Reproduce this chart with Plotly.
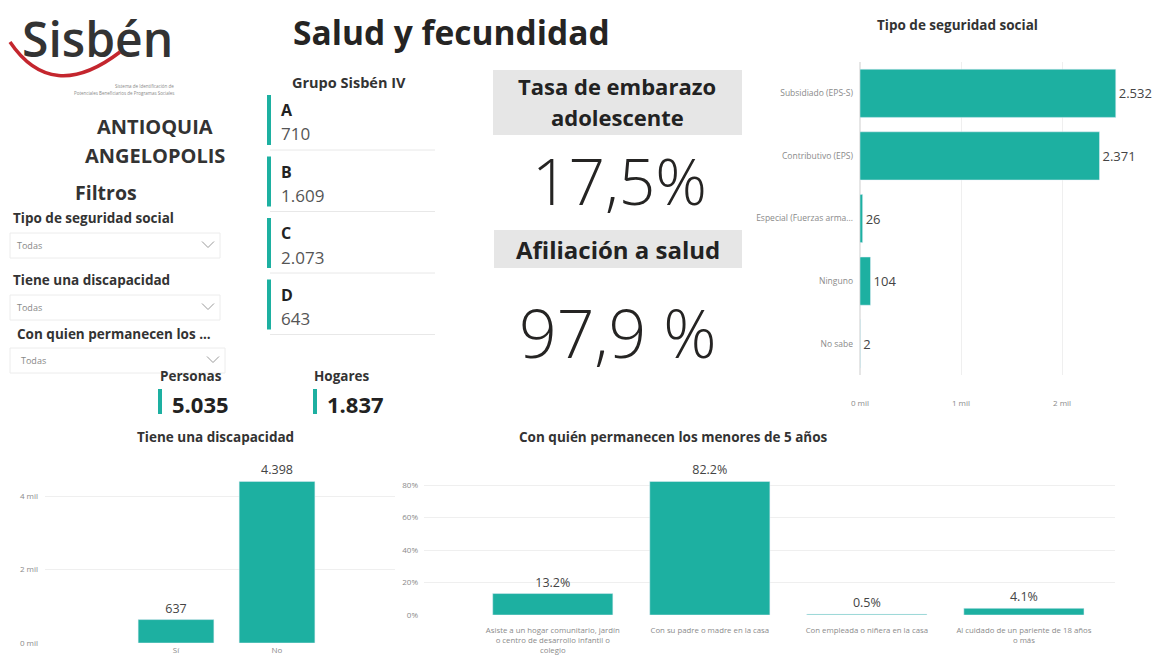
import plotly.graph_objects as go

W, H = 1161, 656

# ---------------- data ----------------
seg_cats = ["Subsidiado (EPS-S)", "Contributivo (EPS)", "Especial (Fuerzas arma...", "Ninguno", "No sabe"]
seg_vals = [2532, 2371, 26, 104, 2]
seg_ticks = [0, 1000, 2000]
seg_ticklabels = ["0 mil", "1 mil", "2 mil"]

disc_cats = ["Sí", "No"]
disc_vals = [637, 4398]
disc_ticks = [0, 2000, 4000]
disc_ticklabels = ["0 mil", "2 mil", "4 mil"]

men_cats = [
    "Asiste a un hogar comunitario, jardín<br>o centro de desarrollo infantil o<br>colegio",
    "Con su padre o madre en la casa",
    "Con empleada o niñera en la casa",
    "Al cuidado de un pariente de 18 años<br>o más",
]
men_vals = [13.2, 82.2, 0.5, 4.1]
men_ticks = [0, 20, 40, 60, 80]
men_ticklabels = ["0%", "20%", "40%", "60%", "80%"]

grupo_labels = ["A", "B", "C", "D"]
grupo_vals = ["710", "1.609", "2.073", "643"]

personas = "5.035"
hogares = "1.837"
tasa_embarazo = "17,5%"
afiliacion = "97,9 %"

TEAL = "#1DB0A1"
DARK = "#252423"
FONT = "Open Sans"


def X(p):
    return p / W


def Y(p):
    return 1 - p / H


fig = go.Figure()

fig.add_trace(go.Bar(
    x=seg_vals, y=seg_cats, orientation="h", marker_color=TEAL, width=0.77,
    texttemplate="%{x:,.0f}", textposition="outside", cliponaxis=False,
    textfont=dict(size=13, color="#444444"), xaxis="x", yaxis="y", showlegend=False,
))
fig.add_trace(go.Bar(
    x=disc_cats, y=disc_vals, marker_color=TEAL, width=0.75,
    texttemplate="%{y:,.0f}", textposition="outside", cliponaxis=False,
    textfont=dict(size=12.5, color="#444444"), xaxis="x2", yaxis="y2", showlegend=False,
))
fig.add_trace(go.Bar(
    x=men_cats, y=men_vals, marker_color=TEAL, width=0.765,
    text=[f"{v:.1f}%" for v in men_vals], textposition="outside", cliponaxis=False,
    textfont=dict(size=12.5, color="#444444"), xaxis="x3", yaxis="y3", showlegend=False,
))

small = dict(size=8, color="#8a8a8a", family=FONT)

fig.update_layout(
    width=W, height=H, margin=dict(l=0, r=0, t=0, b=0, pad=0, autoexpand=False),
    paper_bgcolor="white", plot_bgcolor="white",
    separators=",.",
    font=dict(family=FONT, color=DARK),
    xaxis=dict(domain=[X(860), X(1140)], range=[0, 2772], tickvals=seg_ticks, ticktext=seg_ticklabels,
               showgrid=True, gridcolor="#efefef", zeroline=True, zerolinecolor="#e6e6e6",
               tickfont=small, ticklabelstandoff=22, anchor="y", fixedrange=True, automargin=False),
    yaxis=dict(domain=[Y(375), Y(62)], range=[4.5, -0.5], tickfont=dict(size=8.5, color="#8a8a8a", family=FONT),
               ticklabelstandoff=6, showgrid=False, anchor="x", fixedrange=True, automargin=False),
    xaxis2=dict(domain=[X(45), X(395)], range=[-1.297, 2.168], tickfont=small, showgrid=False,
                anchor="y2", ticklabelstandoff=1, fixedrange=True, automargin=False),
    yaxis2=dict(domain=[Y(643), Y(460)], range=[0, 4980], tickvals=disc_ticks, ticktext=disc_ticklabels,
                showgrid=True, gridcolor="#efefef", zeroline=False, tickfont=small,
                ticklabelstandoff=6, anchor="x2", fixedrange=True, automargin=False),
    xaxis3=dict(domain=[X(424), X(1115)], range=[-0.82, 3.58], tickfont=dict(size=7.8, color="#8a8a8a", family=FONT),
                showgrid=False, anchor="y3", ticklabelstandoff=9, fixedrange=True, automargin=False),
    yaxis3=dict(domain=[Y(615), Y(460)], range=[0, 95.4], tickvals=men_ticks, ticktext=men_ticklabels,
                showgrid=True, gridcolor="#efefef", zeroline=False, tickfont=small,
                ticklabelstandoff=5, anchor="x3", fixedrange=True, automargin=False),
)

ann = []
shapes = []


def text(x, y, t, size, bold=False, color=DARK, anchor="left", weight=None, family=FONT):
    w = weight if weight is not None else (700 if bold else 400)
    ann.append(dict(x=X(x), y=Y(y), xref="paper", yref="paper", text=t, showarrow=False,
                    xanchor=anchor, yanchor="middle", borderpad=0,
                    font=dict(size=size, color=color, family=family, weight=w)))


def rect(x0, y0, x1, y1, fill=None, line=None, lw=1):
    shapes.append(dict(type="rect", xref="paper", yref="paper", x0=X(x0), x1=X(x1), y0=Y(y1), y1=Y(y0),
                       fillcolor=fill if fill else "rgba(0,0,0,0)",
                       line=dict(color=line if line else "rgba(0,0,0,0)", width=lw), layer="below"))


def hline(x0, x1, y, color="#e8e8e8", lw=1):
    shapes.append(dict(type="line", xref="paper", yref="paper", x0=X(x0), x1=X(x1), y0=Y(y), y1=Y(y),
                       line=dict(color=color, width=lw)))


def chevron(cx, cy):
    shapes.append(dict(type="path", xref="paper", yref="paper",
                       path=f"M {X(cx-6)} {Y(cy-3)} L {X(cx)} {Y(cy+3)} L {X(cx+6)} {Y(cy-3)}",
                       line=dict(color="#9a9a9a", width=1)))


# Logo
shapes.append(dict(type="path", xref="paper", yref="paper",
                   path=f"M {X(10)} {Y(42)} Q {X(52)} {Y(104)} {X(120)} {Y(52)}",
                   line=dict(color="#c4262e", width=3.5)))
text(97, 38, "Sisbén", 48, color="#333333", anchor="center", weight=600)
text(175, 86, "Sistema de Identificación de", 4.5, color="#888888", anchor="right")
text(175, 93, "Potenciales Beneficiarios de Programas Sociales", 4.5, color="#888888", anchor="right")

# Title
text(292, 32, "Salud y fecundidad", 33.5, bold=True)

# Location
text(155, 126, "ANTIOQUIA", 20, bold=True, color="#333333", anchor="center")
text(155, 155, "ANGELOPOLIS", 20, bold=True, color="#333333", anchor="center")
text(106, 192, "Filtros", 19.5, bold=True, color="#333333", anchor="center")

# Filters
filters = [("Tipo de seguridad social", 12, 218, 233, 258, 220),
           ("Tiene una discapacidad", 12, 280, 295, 320, 220),
           ("Con quien permanecen los ...", 16, 334, 348, 373, 225)]
for lab, lx, ly, by0, by1, bx1 in filters:
    text(lx, ly, lab, 13.5, bold=True, color="#333333")
    rect(10, by0, bx1, by1, line="#ececec")
    text(lx + 4, (by0 + by1) / 2, "Todas", 9, color="#888888")
    chevron(bx1 - 12, (by0 + by1) / 2 - 1)

# Personas / Hogares
text(159, 376, "Personas", 13.5, bold=True, color="#333333")
text(313, 376, "Hogares", 13.5, bold=True, color="#333333")
rect(158, 389, 162, 414, fill=TEAL)
rect(313, 389, 317, 414, fill=TEAL)
text(171, 404, personas, 22, bold=True, color="#222222")
text(326, 404, hogares, 22, bold=True, color="#222222")

# Grupo Sisbén IV cards
text(291, 82, "Grupo Sisbén IV", 14.5, bold=True, color="#333333")
for i, (g, v) in enumerate(zip(grupo_labels, grupo_vals)):
    top = 95 + i * 61.5
    rect(267, top, 271, top + 50, fill=TEAL)
    text(280, top + 15, g, 16, bold=True, color="#222222")
    text(280, top + 39, v, 17, color="#555555")
    hline(270, 435, top + 55)

# KPI boxes
rect(493, 70, 742, 135, fill="#e6e6e6")
text(617, 86, "Tasa de embarazo", 22, bold=True, color="#222222", anchor="center")
text(617, 117, "adolescente", 22, bold=True, color="#222222", anchor="center")
text(619, 180, tasa_embarazo, 64, color="#252423", anchor="center", weight=300)
rect(494, 230, 742, 268, fill="#e6e6e6")
text(618, 249, "Afiliación a salud", 24, bold=True, color="#222222", anchor="center")
text(618, 332, afiliacion, 66, color="#252423", anchor="center", weight=300)

# Chart titles
text(957, 25, "Tipo de seguridad social", 13.5, bold=True, color="#333333", anchor="center")
text(215, 437, "Tiene una discapacidad", 13.5, bold=True, color="#333333", anchor="center")
text(673, 437, "Con quién permanecen los menores de 5 años", 13.5, bold=True, color="#333333", anchor="center")

fig.update_layout(annotations=ann, shapes=shapes)
fig.write_html("out.html", config={"displayModeBar": False},
               post_script="document.body.style.margin='0px';document.body.style.overflow='hidden';")
